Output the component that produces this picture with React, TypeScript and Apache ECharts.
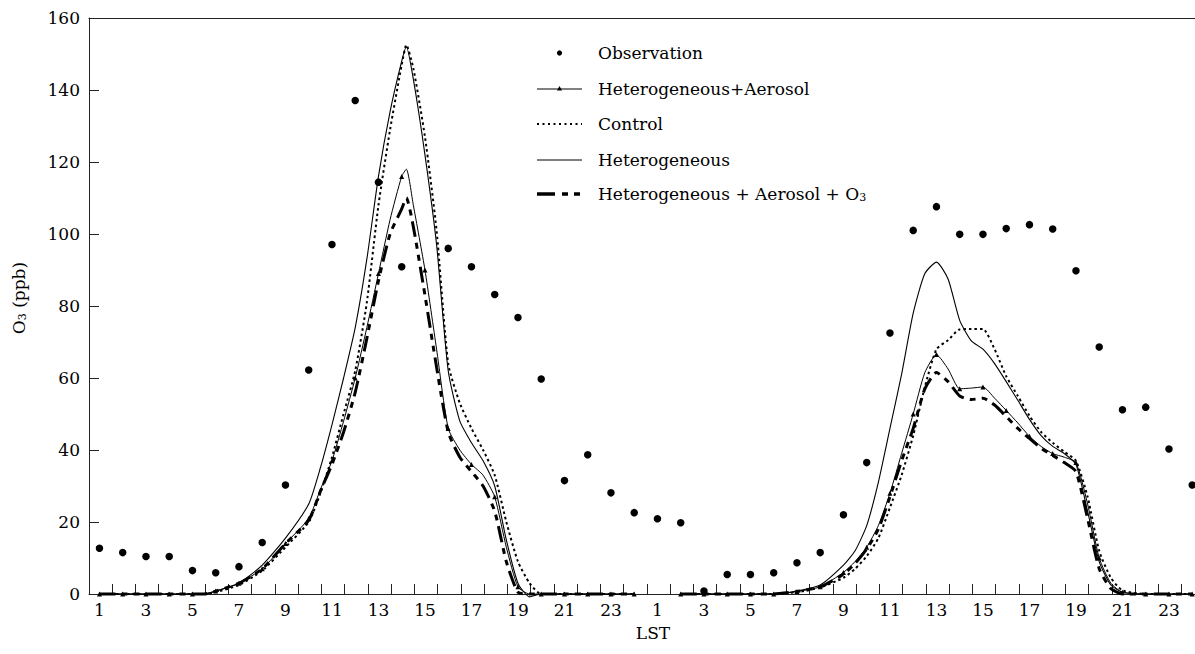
import React, { useEffect, useRef } from "react";
import * as echarts from "echarts";

const FONT = "DejaVu Serif";

// Observation: one value per hour over two days (hour index 1..48)
const obsHours = [
  1, 2, 3, 4, 5, 6, 7, 8, 9, 10, 11, 12, 13, 14, 15, 16, 17, 18, 19, 20, 21, 22, 23, 24,
  25, 26, 27, 28, 29, 30, 31, 32, 33, 34, 35, 36, 37, 38, 39, 40, 41, 42, 43, 44, 45, 46, 47, 48,
];
const observation: (number | null)[] = [
  12.7, 11.5, 10.4, 10.4, 6.5, 5.9, 7.6, 14.3, 30.3, 62.2, 97.1, 137.1, 114.4, 90.9, null, 96.0,
  90.9, 83.2, 76.8, 59.7, 31.5, 38.7, 28.1, 22.6,
  20.9, 19.8, 0.8, 5.4, 5.4, 5.9, 8.7, 11.5, 22.0, 36.5, 72.5, 101.0, 107.6, 99.9, 99.9, 101.5,
  102.6, 101.4, 89.8, 68.6, 51.2, 51.9, 40.3, 30.3,
];

// Model output sample times (hour index); 25 is the break between the two days
const modelHours = [
  1, 2, 3, 4, 5, 5.5, 6, 7, 8, 9, 10, 10.5, 11, 11.5, 12, 12.5, 13, 13.5, 14, 14.2, 14.5, 15, 15.5,
  16, 16.5, 17, 17.5, 18, 18.5, 19, 19.5, 20, 21, 22, 23, 24,
  25,
  26, 27, 28, 29, 30, 31, 32, 33, 33.5, 34, 34.5, 35, 35.5, 36, 36.5, 37, 37.5, 38, 38.5, 39, 39.5,
  40, 40.5, 41, 41.5, 42, 42.5, 43, 43.5, 44, 44.5, 45, 46, 47, 48,
];
const hetAerosol: (number | null)[] = [
  0, 0, 0, 0, 0, 0, 0.8, 3, 7, 14, 21, 29, 37, 48, 60, 74, 89, 104, 116, 118, 108, 90, 68,
  46, 40, 36, 33, 27, 13, 2, 0, 0, 0, 0, 0, 0,
  null,
  0, 0, 0, 0, 0, 0.7, 2, 6, 9, 13, 19, 28, 39, 50, 61.5, 66.5, 62.5, 57, 57.2, 57.5, 54.4,
  51, 47.5, 43.8, 41, 39, 38, 36.5, 25, 10, 3, 0.5, 0, 0, 0,
];
const controlRun: (number | null)[] = [
  0, 0, 0, 0, 0, 0, 0.5, 2.5, 6.5, 13, 20, 28, 38, 50, 62, 81, 108, 129, 147, 152.5, 146, 127, 101,
  64, 53, 46, 40, 33, 20, 9, 3, 0, 0, 0, 0, 0,
  null,
  0, 0, 0, 0, 0, 0.5, 1.8, 4.5, 7, 10.5, 15.5, 24, 33, 44, 57.5, 68, 70.5, 73.5, 73.6, 73.6, 68,
  60.5, 55, 49.5, 45, 42, 39.5, 37, 27, 12, 4.5, 1, 0, 0, 0,
];
const heterogeneous: (number | null)[] = [
  0, 0, 0, 0, 0, 0, 0.8, 3, 8, 15.5, 25, 35, 47, 60, 74, 93, 116, 134, 148, 152, 143, 122, 97,
  62, 48, 42, 37, 30, 15, 3, -0.8, 0, 0, 0, 0, 0,
  null,
  0, 0, 0, 0, 0, 0.8, 2.5, 8, 12, 19, 31, 46, 61, 78, 89, 92.2, 87.5, 76, 70.3, 68, 64,
  59, 53.8, 48.5, 44, 41, 39, 36, 23, 9, 2.5, 0.5, 0, 0, 0,
];
const hetAerosolO3: (number | null)[] = [
  0, 0, 0, 0, 0, 0, 0.8, 3, 7, 14, 20.5, 28.5, 36, 45, 56, 71, 87, 100, 107, 110, 102, 83, 63,
  45, 38, 34, 30, 23, 9, 0.5, 0, 0, 0, 0, 0, 0,
  null,
  0, 0, 0, 0, 0, 0.7, 2, 5.5, 8.5, 12.5, 18, 27, 37, 46, 57, 61.5, 59, 55, 54, 54.4, 52.5,
  49.3, 46, 43.2, 40.5, 38.5, 36.5, 34, 21, 7, 1.5, 0, 0, 0, 0,
];

const xLabelHours = [1, 3, 5, 7, 9, 11, 13, 15, 17, 19, 21, 23, 25, 27, 29, 31, 33, 35, 37, 39, 41, 43, 45, 47];
const legendNames = [
  "Observation",
  "Heterogeneous+Aerosol",
  "Control",
  "Heterogeneous",
  "Heterogeneous + Aerosol + O",
];

const X_MIN = 0.55;
const X_MAX = 48.12;

function lineData(vals: (number | null)[]) {
  return modelHours.map((h, i) => (vals[i] === null ? [h, "-"] : [h, vals[i]]));
}

export default function App() {
  const ref = useRef<HTMLDivElement>(null);

  useEffect(() => {
    if (!ref.current) return;
    const chart = echarts.init(ref.current, null, { renderer: "svg" });

    const tickValues: number[] = [];
    for (let i = 1; i < 48; i++) tickValues.push(X_MIN + i);

    const legendX = 537;
    const legendW = 45;
    const textX = 598;
    const rowsY = [53, 89, 124, 160, 194];
    const legendFont = 17;
    const axisFont = 17;

    const graphic: any[] = [
      { type: "circle", shape: { cx: legendX + legendW / 2, cy: rowsY[0], r: 2.6 }, style: { fill: "#000" } },
      { type: "line", shape: { x1: legendX, y1: rowsY[1], x2: legendX + legendW, y2: rowsY[1] }, style: { stroke: "#000", lineWidth: 1 } },
      {
        type: "polygon",
        shape: { points: [[legendX + legendW / 2, rowsY[1] - 3], [legendX + legendW / 2 - 2.5, rowsY[1] + 1.5], [legendX + legendW / 2 + 2.5, rowsY[1] + 1.5]] },
        style: { fill: "#000" },
      },
      { type: "line", shape: { x1: legendX, y1: rowsY[2], x2: legendX + legendW, y2: rowsY[2] }, style: { stroke: "#000", lineWidth: 2, lineDash: [2, 3.5] } },
      { type: "line", shape: { x1: legendX, y1: rowsY[3], x2: legendX + legendW, y2: rowsY[3] }, style: { stroke: "#000", lineWidth: 1 } },
      { type: "line", shape: { x1: legendX, y1: rowsY[4], x2: legendX + legendW, y2: rowsY[4] }, style: { stroke: "#000", lineWidth: 3.5, lineDash: [18, 7, 6, 6, 6, 30] } },
    ];
    legendNames.forEach((name, i) => {
      const isO3 = i === 4;
      graphic.push({
        type: "text",
        x: textX,
        y: rowsY[i],
        style: {
          text: isO3 ? `{a|${name}}{s|3}` : name,
          fontFamily: FONT,
          fontSize: legendFont,
          fill: "#000",
          verticalAlign: "middle",
          align: "left",
          rich: isO3
            ? {
                a: { fontFamily: FONT, fontSize: legendFont, fill: "#000" },
                s: { fontFamily: FONT, fontSize: 11, fill: "#000", verticalAlign: "bottom", padding: [6, 0, 0, 0] },
              }
            : undefined,
        },
      });
    });
    graphic.push({
      type: "text",
      x: 653,
      y: 633,
      style: { text: "LST", fontFamily: FONT, fontSize: axisFont, fill: "#000", align: "center", verticalAlign: "middle" },
    });
    graphic.push({
      type: "text",
      x: 19,
      y: 298,
      rotation: Math.PI / 2,
      style: {
        text: "{a|O}{s|3}{a| (ppb)}",
        fontFamily: FONT,
        fontSize: axisFont,
        fill: "#000",
        align: "center",
        verticalAlign: "middle",
        rich: {
          a: { fontFamily: FONT, fontSize: axisFont, fill: "#000" },
          s: { fontFamily: FONT, fontSize: 11, fill: "#000", verticalAlign: "bottom", padding: [5, 0, 0, 0] },
        },
      },
    });

    const smooth = 0.2;
    const option: any = {
      animation: false,
      backgroundColor: "#fff",
      textStyle: { fontFamily: FONT },
      grid: { left: 89, top: 18, right: 0, bottom: 60, containLabel: false },
      xAxis: [
        {
          type: "value",
          min: X_MIN,
          max: X_MAX,
          axisLine: { show: true, lineStyle: { color: "#222", width: 1 } },
          axisTick: { show: true, inside: true, length: 10, customValues: tickValues, lineStyle: { color: "#222" } },
          axisLabel: {
            show: true,
            customValues: xLabelHours,
            margin: 7,
            fontFamily: FONT,
            fontSize: axisFont,
            color: "#000",
            formatter: (v: number) => String(((Math.round(v) - 1) % 24) + 1),
          },
          splitLine: { show: false },
        },
        {
          type: "value",
          position: "top",
          min: X_MIN,
          max: X_MAX,
          axisLine: { show: true, onZero: false, lineStyle: { color: "#222", width: 1 } },
          axisTick: { show: false },
          axisLabel: { show: false },
          splitLine: { show: false },
        },
      ],
      yAxis: {
        type: "value",
        min: 0,
        max: 160,
        interval: 20,
        axisLine: { show: true, lineStyle: { color: "#222", width: 1 } },
        axisTick: { show: true, inside: true, length: 10, lineStyle: { color: "#222" } },
        axisLabel: { margin: 9, fontFamily: FONT, fontSize: axisFont, color: "#000" },
        splitLine: { show: false },
      },
      graphic,
      series: [
        {
          name: legendNames[0],
          type: "scatter",
          symbol: "circle",
          symbolSize: 7.5,
          itemStyle: { color: "#000", opacity: 1 },
          data: obsHours.map((h, i) => [h, observation[i]]).filter((d) => d[1] !== null),
          z: 5,
        },
        {
          name: legendNames[1],
          type: "line",
          clip: false,
          smooth,
          symbolSize: 5,
          lineStyle: { color: "#000", width: 1 },
          itemStyle: { color: "#000", opacity: 1 },
          data: modelHours.map((h, i) => ({
            value: hetAerosol[i] === null ? [h, "-"] : [h, hetAerosol[i]],
            symbol: Number.isInteger(h) && hetAerosol[i] !== null ? "triangle" : "none",
          })),
        },
        {
          name: legendNames[2],
          type: "line",
          clip: false,
          smooth,
          showSymbol: false,
          symbol: "none",
          lineStyle: { color: "#000", width: 2, type: [2.5, 3] },
          data: lineData(controlRun),
        },
        {
          name: legendNames[3],
          type: "line",
          clip: false,
          smooth,
          showSymbol: false,
          symbol: "none",
          lineStyle: { color: "#000", width: 1.1 },
          data: lineData(heterogeneous),
        },
        {
          name: legendNames[4],
          type: "line",
          clip: false,
          smooth,
          showSymbol: false,
          symbol: "none",
          lineStyle: { color: "#000", width: 3, type: [16, 6, 6, 6, 6, 6] },
          data: lineData(hetAerosolO3),
        },
      ],
    };

    chart.setOption(option);
    return () => chart.dispose();
  }, []);

  return (
    <div
      ref={ref}
      style={{ position: "fixed", left: 0, top: 0, width: 1195, height: 654, background: "#fff" }}
    />
  );
}
